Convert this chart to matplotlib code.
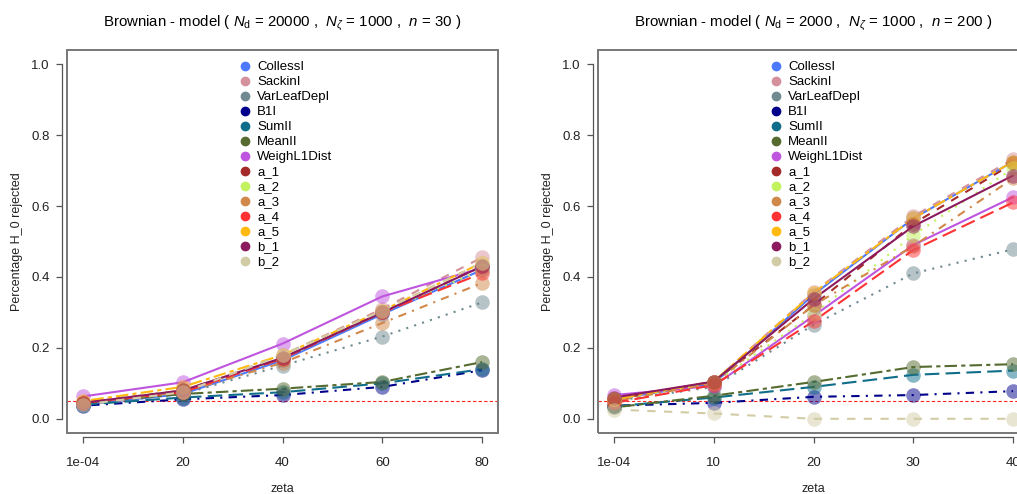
import matplotlib
matplotlib.use("Agg")
import matplotlib.pyplot as plt
from matplotlib.patches import Rectangle
from matplotlib.lines import Line2D

plt.rcParams['font.family'] = ['Liberation Sans', 'DejaVu Sans']
plt.rcParams['mathtext.fontset'] = 'custom'
plt.rcParams['mathtext.rm'] = 'Liberation Sans'
plt.rcParams['mathtext.it'] = 'Liberation Sans:italic'

# series names, colours and R-style line types
names = ["CollessI", "SackinI", "VarLeafDepI", "B1I", "SumII", "MeanII", "WeighL1Dist",
         "a_1", "a_2", "a_3", "a_4", "a_5", "b_1", "b_2"]
colors = ["#4D79FF", "#D4919B", "#6F8A91", "#00008B", "#106E8A", "#556B2F", "#BF55DF",
          "#A52A2A", "#C2F25E", "#D0894A", "#FF3333", "#FFB90F", "#8B1A5E", "#D2CCA6"]

# left panel: N_d = 20000, n = 30
labels_left = ["1e-04", "20", "40", "60", "80"]
left_vals = {
    "CollessI":    [0.040, 0.070, 0.165, 0.295, 0.420],
    "SackinI":     [0.040, 0.075, 0.180, 0.310, 0.455],
    "VarLeafDepI": [0.040, 0.070, 0.150, 0.232, 0.328],
    "B1I":         [0.037, 0.055, 0.067, 0.090, 0.137],
    "SumII":       [0.040, 0.060, 0.075, 0.100, 0.140],
    "MeanII":      [0.045, 0.070, 0.085, 0.104, 0.160],
    "WeighL1Dist": [0.063, 0.103, 0.212, 0.345, 0.425],
    "a_1":         [0.045, 0.080, 0.170, 0.300, 0.430],
    "a_2":         [0.045, 0.080, 0.170, 0.300, 0.420],
    "a_3":         [0.045, 0.075, 0.158, 0.270, 0.383],
    "a_4":         [0.045, 0.075, 0.170, 0.300, 0.410],
    "a_5":         [0.050, 0.090, 0.180, 0.305, 0.440],
    "b_1":         [0.045, 0.080, 0.172, 0.300, 0.430],
    "b_2":         [0.040, 0.075, 0.180, 0.305, 0.440],
}

# right panel: N_d = 2000, n = 200
labels_right = ["1e-04", "10", "20", "30", "40"]
right_vals = {
    "CollessI":    [0.055, 0.100, 0.350, 0.565, 0.725],
    "SackinI":     [0.055, 0.105, 0.357, 0.571, 0.732],
    "VarLeafDepI": [0.050, 0.090, 0.265, 0.410, 0.478],
    "B1I":         [0.037, 0.045, 0.062, 0.067, 0.078],
    "SumII":       [0.035, 0.060, 0.090, 0.124, 0.136],
    "MeanII":      [0.032, 0.065, 0.104, 0.146, 0.154],
    "WeighL1Dist": [0.067, 0.093, 0.290, 0.490, 0.625],
    "a_1":         [0.055, 0.105, 0.320, 0.550, 0.720],
    "a_2":         [0.055, 0.100, 0.296, 0.518, 0.706],
    "a_3":         [0.050, 0.100, 0.320, 0.487, 0.678],
    "a_4":         [0.045, 0.095, 0.275, 0.476, 0.610],
    "a_5":         [0.055, 0.105, 0.355, 0.565, 0.725],
    "b_1":         [0.060, 0.105, 0.338, 0.543, 0.686],
    "b_2":         [0.026, 0.015, 0.000, 0.000, 0.000],
}

# R lty 1..6 cycling
ltys = [None, (4, 4), (1, 3), (1, 3, 4, 3), (7, 3), (2, 2, 6, 2)]

fig = plt.figure(figsize=(10.17, 4.94), dpi=100)
W, H = 1017, 494


def panel(left_px, vals, xlabels, title):
    ax = fig.add_axes([left_px / W, (H - 433) / H, 431 / W, 383 / H])
    x = list(range(1, len(xlabels) + 1))
    ax.axhline(0.05, color="#FF2020", lw=0.8, dashes=(3, 2), zorder=1)
    for i, nm in enumerate(names):
        d = ltys[i % 6]
        ln, = ax.plot(x, vals[nm], color=colors[i], lw=1.5, zorder=2)
        if d is not None:
            ln.set_dashes(d)
        ax.plot(x, vals[nm], "o", color=colors[i], ms=10.5, alpha=0.5, mec="none", zorder=3)
    ax.set_xlim(0.84, 5.16)
    ax.set_ylim(-0.04, 1.04)
    ax.set_xticks(x)
    ax.set_xticklabels(xlabels)
    ax.set_yticks([0, 0.2, 0.4, 0.6, 0.8, 1.0])
    ax.set_yticklabels(["0.0", "0.2", "0.4", "0.6", "0.8", "1.0"], rotation=90, va="center")
    for s in ["top", "right"]:
        ax.spines[s].set_visible(False)
    ax.spines["left"].set_position(("outward", 3.6))
    ax.spines["bottom"].set_position(("outward", 3))
    ax.spines["left"].set_bounds(0, 1)
    ax.spines["bottom"].set_bounds(1, 5)
    for s in ["left", "bottom"]:
        ax.spines[s].set_color("#555555")
        ax.spines[s].set_linewidth(0.9)
    ax.tick_params(colors="#555555", labelcolor="#222222", labelsize=9.5, length=4, width=0.9)
    ax.tick_params(axis="x", pad=10)
    ax.tick_params(axis="y", pad=5)
    ax.add_patch(Rectangle((0, 0), 1, 1, transform=ax.transAxes, fill=False,
                           ec="#777777", lw=1.4, clip_on=False, zorder=5))
    ax.set_xlabel("zeta", fontsize=9, color="#222222", labelpad=10)
    ax.set_ylabel("Percentage H_0 rejected", fontsize=9, color="#222222", labelpad=6)
    ax.set_title(title, fontsize=10.8, color="#000000", pad=17)
    handles = [Line2D([], [], ls="none", marker="o", ms=6, color=c) for c in colors]
    ax.legend(handles, names, loc="upper center", bbox_to_anchor=(0.51, 0.995), frameon=False,
              fontsize=9.5, handlelength=0.6, handletextpad=0.6, labelspacing=0.21,
              borderpad=0.2)
    return ax


panel(67, left_vals, labels_left,
      r"Brownian - model ( $N_\mathrm{d}$ = 20000 ,  $N_\zeta$ = 1000 ,  $n$ = 30 )")
panel(598, right_vals, labels_right,
      r"Brownian - model ( $N_\mathrm{d}$ = 2000 ,  $N_\zeta$ = 1000 ,  $n$ = 200 )")

fig.savefig("out.png", dpi=100)
